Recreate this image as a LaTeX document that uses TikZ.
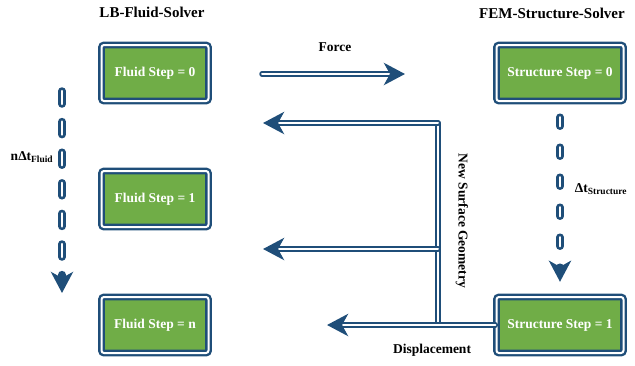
\documentclass[tikz,border=0pt]{standalone}
\usepackage{fontspec}
\setmainfont{Liberation Serif}
\usetikzlibrary{arrows.meta, calc}
\definecolor{dblue}{HTML}{1F4E79}
\definecolor{sgreen}{HTML}{70AD47}

\begin{document}
\begin{tikzpicture}[x=1pt, y=-1pt,
            stepbox/.style={rectangle, rounded corners=2.5pt, fill=sgreen, draw=dblue, line width=2.4pt, double=white, double distance=2pt, minimum width=107pt, minimum height=56pt, text=white, font=\fontsize{13.5}{16}\selectfont\bfseries},
            title/.style={font=\fontsize{15}{18}\selectfont\bfseries},
            lbl/.style={font=\fontsize{13.5}{16}\selectfont\bfseries},
            flowline/.style={draw=dblue, line width=5.5pt, line cap=round, postaction={draw=white, line width=2pt}},
            flowarrow/.style={draw=dblue, line width=5.5pt, line cap=round, -{Stealth[length=21pt, width=22pt, inset=6pt]}, postaction={draw=white, line width=2pt, -, shorten >=16pt}},
            timearrow/.style={draw=dblue, line width=7.5pt, line cap=round, dash pattern=#1, -{Stealth[length=21pt, width=22pt, inset=6pt]}, postaction={draw=white, line width=2.5pt, dash pattern=#1, -, shorten >=22pt}},
            timearrow/.default={on 13pt off 17.6pt}
        ]
            \useasboundingbox (0,0) rectangle (635,365);

            % Solvers
            \node[title] (lbtitle) at (152,12) {LB-Fluid-Solver};
            \node[title] (femtitle) at (552,13) {FEM-Structure-Solver};

            % Fluid steps
            \node[stepbox] (f0) at (155,73) {Fluid Step = 0};
            \node[stepbox] (f1) at (155,199) {Fluid Step = 1};
            \node[stepbox] (fn) at (155,325) {Fluid Step = n};

            % Structure steps
            \node[stepbox, minimum width=127pt] (s0) at (560,73) {Structure Step = 0};
            \node[stepbox, minimum width=127pt] (s1) at (560,325) {Structure Step = 1};

            % Time stepping
            \coordinate (ftop) at (62,91);
            \coordinate (fbot) at (62,293);
            \draw[timearrow] (ftop) -- (fbot);
            \draw[timearrow={on 9pt off 21pt}] ($(s0.south)+(0,15)$) -- ($(s1.north)+(0,-14)$);
            \node[lbl] (dtfluid) at (32,157) {nΔt\textsubscript{Fluid}};
            \node[lbl] (dtstruct) at (601,189) {Δt\textsubscript{Structure}};

            % Force
            \coordinate (forcein) at (262,74);
            \coordinate (forceout) at (405,74);
            \draw[flowarrow] (forcein) -- (forceout);
            \node[lbl] (force) at (335,47) {Force};

            % Displacement and geometry
            \coordinate (geotop) at (438,123);
            \coordinate (geomid) at (438,249);
            \coordinate (geobot) at (438,325);
            \coordinate (tip0) at (263,123);
            \coordinate (tip1) at (263,249);
            \coordinate (disptip) at (327,325);
            \draw[flowline] (geotop) -- (geobot);
            \draw[flowarrow] (geotop) -- (tip0);
            \draw[flowarrow] (geomid) -- (tip1);
            \draw[flowarrow] (s1.west) -- (disptip);
            \node[lbl, rotate=-90] (geom) at (462,221) {New Surface Geometry};
            \node[lbl] (disp) at (432,350) {Displacement};
        \end{tikzpicture}
\end{document}
